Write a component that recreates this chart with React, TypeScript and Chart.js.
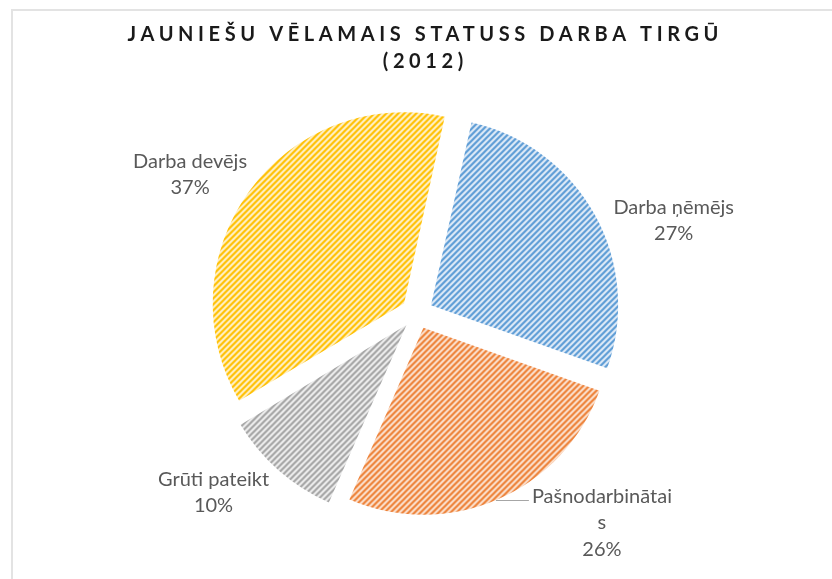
import React, { useEffect, useRef } from "react";
import { Chart, registerables } from "chart.js";
Chart.register(...registerables);

// ---- data ----
const titleLines = ["JAUNIEŠU VĒLAMAIS STATUSS DARBA TIRGŪ", "(2012)"];
const categories = ["Darba ņēmējs", "Pašnodarbinātais", "Grūti pateikt", "Darba devējs"];
const shares = [27, 26, 10, 37];

// ---- styles ----
const sliceColors = ["#5B9BD5", "#ED7D31", "#A5A5A5", "#FFC000"];
const tintColors = ["#E4EEF9", "#FCE8DA", "#F0F0F0", "#FFF3CF"];
// label block centre relative to the slice's outer edge point at mid-angle
const labelShift: [number, number][] = [[79, 5.5], [104, 23.5], [-69.5, 27], [-62.5, -19.5]];
const labelLeader = [false, true, false, false];
const SLICE_OFFSET = 64;

function makeHatch(color: string, bg: string) {
  const s = 6;
  const c = document.createElement("canvas");
  c.width = s;
  c.height = s;
  const g = c.getContext("2d")!;
  g.fillStyle = bg;
  g.fillRect(0, 0, s, s);
  g.strokeStyle = color;
  g.lineWidth = 2.2;
  g.beginPath();
  g.moveTo(-1, s + 1);
  g.lineTo(s + 1, -1);
  g.moveTo(-1, 1);
  g.lineTo(1, -1);
  g.moveTo(s - 1, s + 1);
  g.lineTo(s + 1, s - 1);
  g.stroke();
  return g.createPattern(c, "repeat")!;
}

function wrapLabel(ctx: CanvasRenderingContext2D, text: string, maxW: number): string[] {
  const lines: string[] = [];
  let cur = "";
  for (const ch of text) {
    const next = cur + ch;
    if (ctx.measureText(next).width > maxW && cur.length > 0) {
      const sp = cur.lastIndexOf(" ");
      if (ch !== " " && sp > 0) {
        lines.push(cur.slice(0, sp));
        cur = cur.slice(sp + 1) + ch;
      } else {
        lines.push(cur);
        cur = ch === " " ? "" : ch;
      }
    } else {
      cur = next;
    }
  }
  if (cur) lines.push(cur);
  return lines;
}

const titlePlugin = {
  id: "spacedTitle",
  afterDraw(chart: any) {
    const ctx: CanvasRenderingContext2D = chart.ctx;
    ctx.save();
    ctx.fillStyle = "#1A1A1A";
    ctx.font = "bold 20px Lato";
    (ctx as any).letterSpacing = "4.6px";
    ctx.textAlign = "center";
    ctx.textBaseline = "middle";
    ctx.fillText(titleLines[0], 423 + 2.3, 35);
    ctx.fillText(titleLines[1], 423 + 2.3, 62);
    ctx.restore();
  },
};

const labelPlugin = {
  id: "outsideLabels",
  afterDatasetsDraw(chart: any) {
    const ctx: CanvasRenderingContext2D = chart.ctx;
    const meta = chart.getDatasetMeta(0);
    const ds = chart.data.datasets[0];
    const total = (ds.data as number[]).reduce((a, b) => a + b, 0);
    ctx.save();
    ctx.font = "20px Lato";
    ctx.fillStyle = "#595959";
    ctx.textAlign = "center";
    ctx.textBaseline = "middle";
    const lh = 26.5;
    meta.data.forEach((arc: any, i: number) => {
      const p = arc.getProps(["x", "y", "startAngle", "endAngle", "outerRadius"], true);
      const mid = (p.startAngle + p.endAngle) / 2;
      const shift = (arc.options.offset || 0) / 4;
      const ex = p.x + Math.cos(mid) * (p.outerRadius + shift);
      const ey = p.y + Math.sin(mid) * (p.outerRadius + shift);
      const pct = Math.round((ds.data[i] / total) * 100) + "%";
      const lines = [...wrapLabel(ctx, chart.data.labels[i], 146), pct];
      const cx = ex + labelShift[i][0];
      const cy = ey + labelShift[i][1];
      const y0 = cy - ((lines.length - 1) * lh) / 2;
      lines.forEach((ln, k) => ctx.fillText(ln, cx, y0 + k * lh));
      if (labelLeader[i]) {
        const w = ctx.measureText(lines[0]).width;
        ctx.strokeStyle = "#A6A6A6";
        ctx.lineWidth = 1;
        ctx.beginPath();
        ctx.moveTo(ex - 2, Math.round(ey) + 1.5);
        ctx.lineTo(cx - w / 2 - 3, Math.round(ey) + 1.5);
        ctx.stroke();
      }
    });
    ctx.restore();
  },
};

export default function App() {
  const ref = useRef<HTMLCanvasElement>(null);
  useEffect(() => {
    document.body.style.margin = "0";
    const canvas = ref.current!;
    const patterns = sliceColors.map((c, i) => makeHatch(c, tintColors[i]));
    const chart = new Chart(canvas, {
      type: "pie",
      data: {
        labels: categories,
        datasets: [{ data: shares, backgroundColor: patterns as any, borderWidth: 0, offset: SLICE_OFFSET }],
      },
      options: {
        responsive: false,
        animation: false,
        rotation: 12.5,
        layout: { padding: { top: 94, bottom: 47, left: 100, right: 98 } },
        plugins: {
          legend: { display: false },
          tooltip: { enabled: false },
          title: { display: false },
        },
      },
      plugins: [titlePlugin, labelPlugin],
    });
    return () => chart.destroy();
  }, []);
  return (
    <div style={{ position: "relative", width: 832, height: 579, background: "#fff", overflow: "hidden" }}>
      <div
        style={{
          position: "absolute",
          left: 11,
          top: 9,
          right: -4,
          bottom: -4,
          borderTop: "2px solid #E3E3E3",
          borderLeft: "2px solid #E3E3E3",
        }}
      />
      <canvas ref={ref} width={832} height={579} style={{ position: "absolute", left: 0, top: 0 }} />
    </div>
  );
}
